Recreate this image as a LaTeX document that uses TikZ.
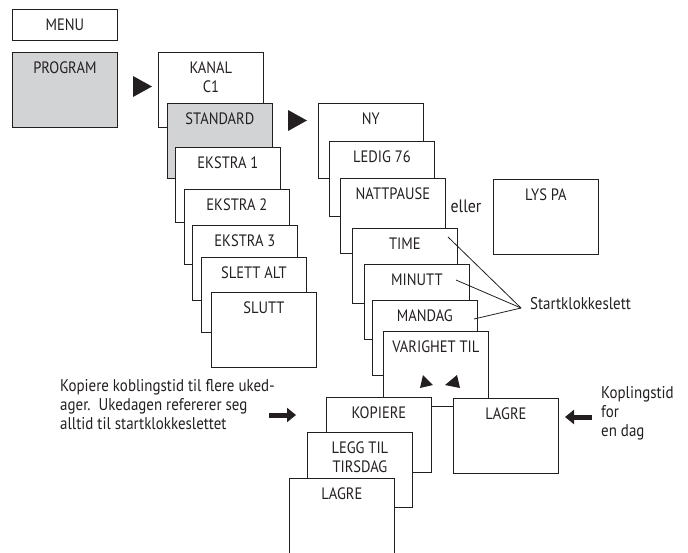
\documentclass[tikz,border=0pt]{standalone}
\usepackage{fontspec}
\setmainfont{PT Sans}[FakeStretch=0.88]
\usetikzlibrary{arrows.meta}
\definecolor{boxgray}{RGB}{210,211,213}
\definecolor{ink}{RGB}{35,31,32}

\begin{document}
\begin{tikzpicture}[x=1pt,y=-1pt]
\tikzstyle{every node}=[font=\fontsize{16.5}{19}\selectfont,text=ink];
\tikzstyle{box}=[draw=ink,line width=0.8pt,fill=white,anchor=north west,minimum width=105pt,minimum height=75pt,inner sep=0pt];
\tikzstyle{greybox}=[box,fill=boxgray];
\tikzstyle{inside}=[anchor=north,yshift=-10pt,align=center,inner sep=0pt];
\tikzstyle{remark}=[anchor=north west,align=left,inner sep=0pt,font=\fontsize{17}{19}\selectfont];
\tikzstyle{fat}=[draw=ink,line width=5pt,-{Triangle[length=9pt,width=14pt]}];
\useasboundingbox (0,0) rectangle (688,552);
% first column
\node[box,minimum height=31pt,label={[inside]north:MENU}] (menu) at (12,9) {};
\node[greybox,label={[inside]north:PROGRAM}] (program) at (12,52) {};
\fill[ink] (133,76) -- (152,86.5) -- (133,97) -- cycle;
% channel menu
\node[box,label={[inside]north:KANAL\\C1}] (kanal) at (158,52) {};
\node[greybox,label={[inside]north:STANDARD}] (standard) at (167,103) {};
\node[box,label={[inside]north:EKSTRA 1}] (ekstraA) at (175,147) {};
\node[box,label={[inside]north:EKSTRA 2}] (ekstraB) at (184,189) {};
\node[box,label={[inside]north:EKSTRA 3}] (ekstraC) at (192,225) {};
\node[box,label={[inside]north:SLETT ALT}] (slettalt) at (201,257) {};
\node[box,label={[inside]north:SLUTT}] (slutt) at (211,292) {};
\fill[ink] (288,110) -- (307,120.5) -- (288,131) -- cycle;
% program steps
\node[box,label={[inside]north:NY}] (ny) at (318,103) {};
\node[box,label={[inside]north:LEDIG 76}] (ledig) at (329,141) {};
\node[box,label={[inside]north:NATTPAUSE}] (natt) at (340,178) {};
\node[font=\fontsize{18}{19}\selectfont] (eller) at (466,206) {eller};
\node[box,label={[inside]north:LYS PA}] (lyspa) at (493,179) {};
\node[box,label={[inside]north:TIME}] (time) at (352,228) {};
\node[box,label={[inside]north:MINUTT}] (minutt) at (364,264) {};
\node[box,label={[inside]north:MANDAG}] (mandag) at (372,300) {};
\node[box,label={[inside]north:VARIGHET TIL}] (varighet) at (383,331) {};
\fill[ink] (420,388) -- (423,375) -- (433,385) -- cycle;
\fill[ink] (445,385) -- (457,375) -- (460,388) -- cycle;
\node[box,label={[inside]north:KOPIERE}] (kopiere) at (326,397) {};
\node[box,label={[inside]north:LEGG TIL\\TIRSDAG}] (leggtil) at (307,432) {};
\node[box,label={[inside]north:LAGRE}] (lagreA) at (289,478) {};
\node[box,label={[inside]north:LAGRE}] (lagreB) at (453,398) {};
% start time
\node[remark,anchor=west] (start) at (530,304) {Startklokkeslett};
\coordinate (ptime) at (448,237);
\coordinate (pminutt) at (456,280);
\coordinate (pmandag) at (474,319);
\draw[ink,line width=0.8pt] ([xshift=-9pt,yshift=-4pt]start.west) -- (ptime);
\draw[ink,line width=0.8pt] ([xshift=-9pt,yshift=-4pt]start.west) -- (pminutt);
\draw[ink,line width=0.8pt] ([xshift=-9pt,yshift=-4pt]start.west) -- (pmandag);
% notes
\node[remark] (note) at (60,379) {Kopiere koblingstid til flere uked-\\ager.\ \ Ukedagen refererer seg\\alltid til startklokkeslettet};
\node[remark] (dag) at (601,386) {Koplingstid\\for\\en dag};
\coordinate (noteA) at (269,415);
\coordinate (noteB) at (296,415);
\coordinate (dagA) at (592,417);
\coordinate (dagB) at (565,417);
\draw[fat] (noteA) -- (noteB);
\draw[fat] (dagA) -- (dagB);
\end{tikzpicture}
\end{document}
